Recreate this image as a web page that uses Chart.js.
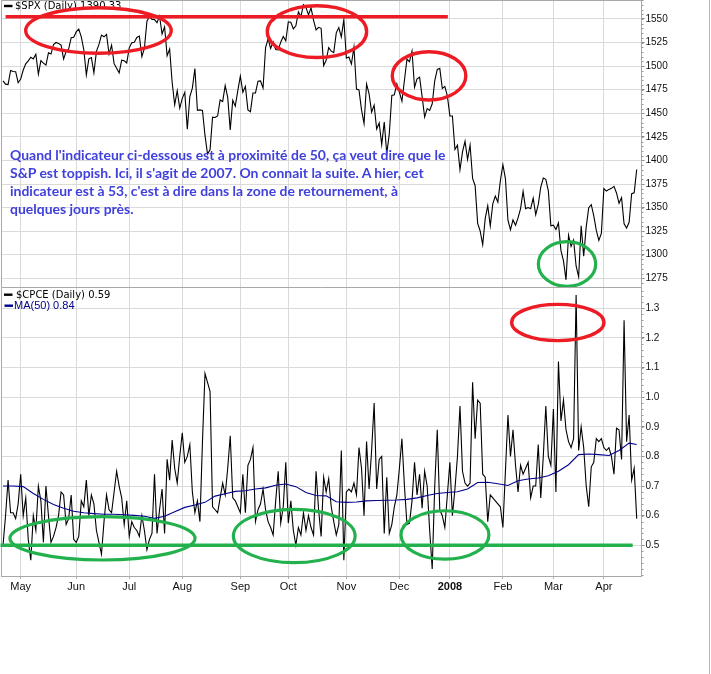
<!DOCTYPE html>
<html><head><meta charset="utf-8">
<script src="https://cdn.jsdelivr.net/npm/chart.js@4.4.0/dist/chart.umd.min.js"></script>
<style>
html,body{margin:0;padding:0;background:#fff;}
#wrap{position:relative;width:711px;height:674px;overflow:hidden;background:#fff;}
#c1{position:absolute;left:0;top:0;}
#c2{position:absolute;left:0;top:287px;}
#frame{position:absolute;left:709px;top:0;width:1px;height:674px;background:#b8b8b8;}
#note{position:absolute;left:10px;top:145.6px;color:#4040dc;font-family:Lato,sans-serif;font-weight:bold;font-size:13px;line-height:18px;white-space:nowrap;transform-origin:0 0;}
</style></head>
<body><div id="wrap">
<canvas id="c1" width="711" height="287"></canvas>
<canvas id="c2" width="711" height="387"></canvas>
<div id="frame"></div>
<div id="note"></div>
</div>
<script>
// ---- data ----
const spxVals = [
1484.4,1480.9,1480.4,1495.4,1494.3,1494.1,1482.4,
1486.3,1495.9,1502.4,1505.6,1509.5,1507.7,1512.6,1491.5,1505.9,1503.2,1501.2,1514.1,1512.8,1522.8,1525.1,1524.1,1522.3,1507.5,1515.7,1518.1,1530.2,1530.6,
1536.3,1539.2,1531.0,1517.4,1490.7,1507.7,1509.1,1493.0,1515.7,1523.0,1532.9,1531.1,1533.7,1512.8,1522.2,1502.6,1497.7,1492.9,1506.3,1505.7,1503.4,
1519.4,1524.9,1525.4,1530.4,1531.9,1510.1,1518.8,1547.7,1552.5,1549.5,1549.4,1546.2,1553.1,1534.1,1541.6,1511.0,1518.1,1482.7,1459.0,1473.9,1455.3,
1465.8,1472.2,1433.1,1467.7,1476.7,1497.5,1453.1,1453.6,1452.9,1426.5,1406.7,1411.3,1445.9,1445.6,1447.1,1464.1,1462.5,1479.4,1466.8,1432.4,1463.8,1457.6,1474.0,
1489.4,1472.3,1478.6,1453.6,1451.7,1471.5,1471.6,1484.0,1484.3,1476.7,1519.8,1529.0,1518.8,1525.8,1517.7,1517.2,1525.4,1531.4,1526.8,
1547.0,1546.6,1539.6,1542.8,1557.6,1552.6,1565.2,1562.5,1554.4,1561.8,1548.7,1538.5,1541.2,1540.1,1500.6,1506.3,1519.6,1515.9,1514.4,1535.3,1541.0,1531.0,1549.4,
1508.4,1509.7,1502.2,1520.3,1475.6,1474.8,1453.7,1439.2,1481.1,1470.6,1451.2,1458.7,1433.3,1439.7,1416.8,1440.7,1407.2,1428.2,1469.0,1469.7,1481.1,
1472.4,1462.8,1485.0,1507.3,1504.7,1516.0,1477.7,1486.6,1488.4,1468.0,1445.9,1455.0,1453.0,1460.1,1484.5,1496.5,1497.7,1476.3,1478.5,1468.4,
1447.2,1447.2,1411.6,1416.2,1390.2,1409.1,1420.3,1401.0,1416.3,1381.0,1373.2,1333.3,1325.2,1310.5,1338.6,1352.1,1330.6,1354.0,1362.3,1355.8,1378.6,
1395.4,1380.8,1336.6,1326.5,1336.9,1331.3,1339.1,1348.9,1367.2,1348.9,1350.0,1348.8,1360.0,1342.5,1353.1,1371.8,1381.3,1380.0,1367.7,1330.6,
1331.3,1326.8,1333.7,1304.3,1293.4,1273.4,1320.7,1308.8,1315.5,1288.1,1276.6,1330.7,1298.4,1329.5,1349.9,1353.0,1341.1,1325.8,1315.2,1322.7,
1370.2,1367.5,1369.3,1370.4,1372.5,1365.5,1354.5,1360.6,1332.8,1328.3,1334.4,1364.7,1365.6,1390.33
];
const cpceVals = [
0.50,0.60,0.72,0.61,0.61,0.59,0.64,0.74,0.60,0.66,
0.52,0.45,0.60,0.55,0.70,0.65,0.51,0.70,0.60,0.51,
0.53,0.56,0.60,0.68,0.67,0.57,0.59,0.67,0.52,0.51,
0.53,0.65,0.63,0.72,0.60,0.67,0.64,0.55,0.51,0.47,
0.58,0.67,0.62,0.61,0.68,0.75,0.70,0.66,0.57,0.65,
0.53,0.58,0.56,0.55,0.53,0.60,0.55,0.485,0.52,0.54,
0.74,0.54,0.62,0.69,0.54,0.79,0.72,0.855,0.76,0.71,
0.80,0.88,0.78,0.80,0.84,0.68,0.61,0.65,0.58,0.85,
1.08,1.05,1.02,0.63,0.62,0.61,0.66,0.71,0.67,0.76,
0.87,0.66,0.65,0.63,0.61,0.74,0.61,0.77,0.79,0.83,
0.58,0.62,0.64,0.69,0.62,0.58,0.56,0.535,0.65,0.75,
0.575,0.63,0.78,0.575,0.65,0.55,0.50,0.56,0.535,0.61,
0.55,0.60,0.56,0.535,0.75,0.62,0.53,0.73,0.68,0.725,
0.63,0.58,0.535,0.57,0.82,0.45,0.68,0.69,0.68,0.71,
0.67,0.83,0.76,0.60,0.85,0.69,0.82,0.98,0.69,0.79,
0.80,0.54,0.73,0.54,0.57,0.63,0.67,0.76,0.86,0.70,
0.57,0.575,0.65,0.78,0.67,0.74,0.625,0.75,0.70,0.55,
0.42,0.70,0.89,0.62,0.60,0.56,0.67,0.78,0.60,0.69,
0.80,0.97,0.75,0.71,0.70,0.71,1.05,0.86,0.99,0.98,
0.74,0.73,0.58,0.67,0.66,0.65,0.64,0.63,0.56,0.75,
0.94,0.80,0.89,0.77,0.68,0.77,0.74,0.76,0.78,0.66,
0.70,0.70,0.84,0.66,0.80,0.97,0.80,0.77,0.96,0.68,
1.12,0.92,0.99,0.89,0.85,0.83,0.86,1.345,0.82,0.90,
0.83,0.70,0.63,0.765,0.78,0.86,0.85,0.86,0.83,0.82,
0.83,0.80,0.74,0.895,0.89,0.79,1.26,0.85,0.94,0.72,
0.76,0.59
];
const maIdx = [0,4,8,12,16,20,24,28,32,36,40,44,48,52,56,60,64,68,72,76,80,84,88,92,96,100,104,108,112,116,120,124,128,132,136,140,144,148,152,156,160,164,168,172,176,180,184,188,192,196,200,204,208,212,216,220,224,228,232,236,240,244,248,251];
const maVals = [0.700,0.700,0.698,0.675,0.655,0.638,0.625,0.615,0.610,0.607,0.605,0.605,0.603,0.601,0.598,0.591,0.598,0.613,0.628,0.636,0.645,0.666,0.674,0.682,0.684,0.690,0.694,0.703,0.707,0.698,0.678,0.668,0.667,0.647,0.645,0.646,0.650,0.651,0.652,0.653,0.655,0.660,0.668,0.675,0.678,0.681,0.690,0.712,0.713,0.708,0.702,0.718,0.724,0.727,0.735,0.750,0.772,0.806,0.808,0.806,0.803,0.820,0.845,0.840];
const monthIdx = [7,29,50,71,94,113,136,157,177,198,218,238];
const monthLabels = ["May","Jun","Jul","Aug","Sep","Oct","Nov","Dec","2008","Feb","Mar","Apr"];
const spxTicks = [1275,1300,1325,1350,1375,1400,1425,1450,1475,1500,1525,1550];
const cpceTicks = [0.5,0.6,0.7,0.8,0.9,1.0,1.1,1.2,1.3];
const noteLines = [
"Quand l'indicateur ci-dessous est à proximité de 50, ça veut dire que le",
"S&P est toppish. Ici, il s'agit de 2007. On connait la suite. A hier, cet",
"indicateur est à 53, c'est à dire dans la zone de retournement, à",
"quelques jours près."
];

// annotation shapes in data coordinates: [xFrom, xTo, yTop, yBottom]
const topRedLine = {x1: 1, x2: 176.2, y: 1552.4};
const topRedEllipses = [[8.3,67.3,1563.8,1511.8],[104.0,144.7,1565.9,1507.3],[153.5,184.0,1517.1,1462.3]];
const topGreenEllipses = [[211.4,235.4,1315.6,1264.7]];
const botGreenLine = {x1: -1, x2: 249.4, y: 0.5};
const botRedEllipses = [[200.8,238.7,1.319,1.185]];
const botGreenEllipses = [[2.1,76.7,0.602,0.445],[90.6,140.1,0.627,0.436],[157.0,193.1,0.622,0.448]];

const X_MIN = -0.8, X_MAX = 252.9;
const RED = '#ed1c24', GREEN = '#22b14c';
const GRID = '#dadada', AXIS = '#a8a8a8';

function ellipse(ctx, xs, ys, b, color, lw){
  const x1=xs.getPixelForValue(b[0]), x2=xs.getPixelForValue(b[1]);
  const y1=ys.getPixelForValue(b[2]), y2=ys.getPixelForValue(b[3]);
  const cx=(x1+x2)/2, cy=(y1+y2)/2;
  const rx=Math.abs(x2-x1)/2-lw/2, ry=Math.abs(y2-y1)/2-lw/2;
  ctx.save(); ctx.beginPath(); ctx.ellipse(cx,cy,rx,ry,0,0,Math.PI*2);
  ctx.strokeStyle=color; ctx.lineWidth=lw; ctx.stroke(); ctx.restore();
}
function hline(ctx, xs, ys, l, color, lw){
  ctx.save(); ctx.beginPath();
  const y=ys.getPixelForValue(l.y);
  ctx.moveTo(xs.getPixelForValue(l.x1), y); ctx.lineTo(xs.getPixelForValue(l.x2), y);
  ctx.strokeStyle=color; ctx.lineWidth=lw; ctx.stroke(); ctx.restore();
}
function legendItem(ctx, x, y, text, color, font, dx){
  ctx.save();
  ctx.fillStyle=color; ctx.fillRect(x, y-1.2, 8.5, 2.4);
  ctx.font=font; ctx.textBaseline='middle'; ctx.textAlign='left';
  ctx.fillText(text, x+dx, y+0.5);
  ctx.restore();
}
function frameAndMinor(chart, step, from, to){
  const ctx=chart.ctx, a=chart.chartArea, ys=chart.scales.y;
  ctx.save(); ctx.strokeStyle=AXIS; ctx.lineWidth=1;
  ctx.beginPath();
  ctx.moveTo(a.left+0.5, a.bottom); ctx.lineTo(a.left+0.5, a.top+0.5); ctx.lineTo(a.right, a.top+0.5);
  ctx.stroke();
  ctx.strokeStyle='#999';
  for(let k=from;k<=to;k++){
    const y=Math.round(ys.getPixelForValue(k*step))+0.5;
    if(y<a.top||y>a.bottom) continue;
    ctx.beginPath(); ctx.moveTo(a.right, y); ctx.lineTo(a.right+2, y); ctx.stroke();
  }
  ctx.restore();
}

const commonX = (h, showLabels) => ({
  type:'linear', min:X_MIN, max:X_MAX, position:'bottom',
  afterBuildTicks: s => { s.ticks = monthIdx.map(v => ({value:v})); },
  afterFit: s => { s.height = h; s.paddingLeft=0; s.paddingRight=0; s.paddingTop=0; s.paddingBottom=0; },
  ticks: {
    display: showLabels, autoSkip:false, maxRotation:0, minRotation:0, color:'#111', padding:1,
    font: c => ({family:'Liberation Sans, Arial, sans-serif', size:11, weight: (monthLabels[c.index]==='2008'?'bold':'normal')}),
    callback: (v, i) => monthLabels[i]
  },
  grid: {color:GRID, lineWidth:1, drawTicks:showLabels, tickLength:3, tickColor:'#b0b0b0'},
  border: {display:true, color:AXIS}
});
const commonY = (min, max, ticks, fmt) => ({
  type:'linear', position:'right', min:min, max:max,
  afterBuildTicks: s => { s.ticks = ticks.map(v => ({value:v})); },
  afterFit: s => { s.width = 69.5; s.paddingTop=0; s.paddingBottom=0; },
  ticks: {color:'#111', padding:1, font:{family:'Liberation Sans, Arial, sans-serif', size:10}, callback: fmt},
  grid: {color:GRID, lineWidth:1, tickLength:3, tickColor:'#888'},
  border: {display:true, color:AXIS}
});

const topPlugin = {
  id:'topDeco',
  afterDatasetsDraw(chart){
    const ctx=chart.ctx, xs=chart.scales.x, ys=chart.scales.y;
    frameAndMinor(chart, 5, 252, 315);
    legendItem(ctx, 4, 6, '$SPX (Daily) ' + spxVals[spxVals.length-1].toFixed(2), '#000', '10px "DejaVu Sans", Verdana, sans-serif', 11);
    hline(ctx, xs, ys, topRedLine, RED, 3.6);
    topRedEllipses.forEach(b => ellipse(ctx, xs, ys, b, RED, 3.4));
    topGreenEllipses.forEach(b => ellipse(ctx, xs, ys, b, GREEN, 3.2));
  }
};
const botPlugin = {
  id:'botDeco',
  afterDatasetsDraw(chart){
    const ctx=chart.ctx, xs=chart.scales.x, ys=chart.scales.y;
    frameAndMinor(chart, 0.02, 20, 68);
    legendItem(ctx, 4, 7.7, '$CPCE (Daily) ' + cpceVals[cpceVals.length-1].toFixed(2), '#000', '10px "DejaVu Sans", Verdana, sans-serif', 12);
    legendItem(ctx, 4.5, 18.7, 'MA(50) ' + maVals[maVals.length-1].toFixed(2), '#00008b', '11px "Liberation Sans", Arial, sans-serif', 9.5);
    hline(ctx, xs, ys, botGreenLine, GREEN, 3.5);
    botRedEllipses.forEach(b => ellipse(ctx, xs, ys, b, RED, 3.4));
    botGreenEllipses.forEach(b => ellipse(ctx, xs, ys, b, GREEN, 3.2));
  }
};

const baseOpts = {
  responsive:false, animation:false, events:[],
  layout:{padding:{left:1, right:0, top:0, bottom:0}},
  plugins:{legend:{display:false}, tooltip:{enabled:false}},
  elements:{point:{radius:0}, line:{tension:0}}
};

new Chart(document.getElementById('c1'), {
  type:'line',
  data:{datasets:[{
    data: spxVals.map((v,i) => ({x:i, y:v})),
    borderColor:'#000', borderWidth:1.1, pointRadius:0, fill:false
  }]},
  options: Object.assign({}, baseOpts, {
    scales:{ x: commonX(0, false), y: commonY(1265.77, 1570.15, spxTicks, v => String(v)) }
  }),
  plugins:[topPlugin]
});

new Chart(document.getElementById('c2'), {
  type:'line',
  data:{datasets:[
    { data: maIdx.map((x,k) => ({x:x, y:maVals[k]})), borderColor:'#00008b', borderWidth:1.1, pointRadius:0, fill:false },
    { data: cpceVals.map((v,i) => ({x:i, y:v})), borderColor:'#000', borderWidth:1.1, pointRadius:0, fill:false }
  ]},
  options: Object.assign({}, baseOpts, {
    scales:{ x: commonX(98, true), y: commonY(0.3964, 1.3719, cpceTicks, v => Number(v).toFixed(1)) }
  }),
  plugins:[botPlugin]
});

// annotation text (real HTML text)
const note = document.getElementById('note');
noteLines.forEach(t => { const d=document.createElement('div'); d.textContent=t; note.appendChild(d); });
const mctx = document.createElement('canvas').getContext('2d');
mctx.font = 'bold 13px Lato';
const w = mctx.measureText(noteLines[0]).width;
if (w > 0) note.style.transform = 'scaleX(' + (436 / w).toFixed(4) + ')';
</script>
</body></html>
